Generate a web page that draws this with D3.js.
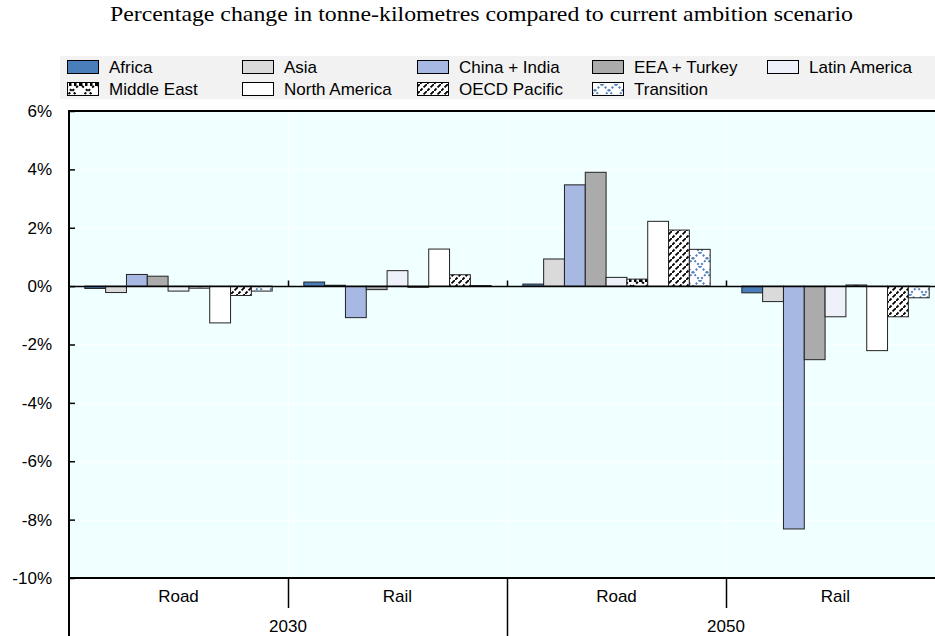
<!DOCTYPE html>
<html><head><meta charset="utf-8">
<script src="https://cdn.jsdelivr.net/npm/d3@7"></script>
<style>
html,body{margin:0;padding:0;background:#fff;}
svg{display:block;}
text{font-family:"Liberation Sans",Arial,sans-serif;fill:#000;}
</style></head>
<body>
<svg id="chart" width="935" height="636"></svg>
<script>
const title = "Percentage change in tonne-kilometres compared to current ambition scenario";
const series = ["Africa","Asia","China + India","EEA + Turkey","Latin America","Middle East","North America","OECD Pacific","Transition"];
const years = ["2030","2050"];
const modes = ["Road","Rail"];
const road2030 = [-0.08,-0.22,0.40,0.34,-0.17,-0.07,-1.26,-0.32,-0.17];
const rail2030 = [0.14,0.03,-1.08,-0.12,0.53,-0.04,1.27,0.39,0.02];
const road2050 = [0.07,0.93,3.47,3.90,0.30,0.24,2.22,1.92,1.26];
const rail2050 = [-0.23,-0.53,-8.32,-2.52,-1.05,0.04,-2.21,-1.05,-0.40];
const yTicks = [6,4,2,0,-2,-4,-6,-8,-10];

const groups = [
  {year:"2030",mode:"Road",vals:road2030},
  {year:"2030",mode:"Rail",vals:rail2030},
  {year:"2050",mode:"Road",vals:road2050},
  {year:"2050",mode:"Rail",vals:rail2050}
];

const fills = {
  "Africa":"#4A7EBB","Asia":"#DADADA","China + India":"#A7B9E3","EEA + Turkey":"#ABABAB",
  "Latin America":"#EEF1F9","Middle East":"url(#pME)","North America":"#FFFFFF",
  "OECD Pacific":"url(#pOP)","Transition":"url(#pTR)"
};

const svg = d3.select("#chart");
const L=69, R=945, T=111, B=578;

// patterns
const defs = svg.append("defs");
const pME = defs.append("pattern").attr("id","pME").attr("patternUnits","userSpaceOnUse").attr("width",16).attr("height",14);
pME.append("rect").attr("width",16).attr("height",14).attr("fill","#fff");
pME.append("path").attr("d","M2,2L14,12M14,2L2,12").attr("stroke","#000").attr("stroke-width",2).attr("stroke-dasharray","2.5,2.5");
pME.append("path").attr("d","M0,1H16M0,13H16").attr("stroke","#000").attr("stroke-width",2).attr("stroke-dasharray","2.5,2.5");
const pOP = defs.append("pattern").attr("id","pOP").attr("patternUnits","userSpaceOnUse").attr("width",7).attr("height",7);
pOP.append("rect").attr("width",7).attr("height",7).attr("fill","#fff");
pOP.append("path").attr("d","M-1.75,8.75L8.75,-1.75").attr("stroke","#000").attr("stroke-width",1.8).attr("stroke-dasharray","6,1.5");
const pTR = defs.append("pattern").attr("id","pTR").attr("patternUnits","userSpaceOnUse").attr("width",14).attr("height",14);
pTR.append("rect").attr("width",14).attr("height",14).attr("fill","#fff");
pTR.append("path").attr("d","M0,0L14,14M14,0L0,14").attr("stroke","#4F81BD").attr("stroke-width",2).attr("stroke-dasharray","2,2");

// title
svg.append("text").attr("x",481.5).attr("y",21).attr("text-anchor","middle")
  .attr("textLength",743).attr("lengthAdjust","spacingAndGlyphs")
  .style("font-family","'Liberation Serif','Times New Roman',serif").style("font-size","21px").text(title);

// legend
svg.append("rect").attr("x",60).attr("y",56).attr("width",875).attr("height",43).attr("fill","#F2F2F2");
const legX = [67,242,417,592,767];
series.forEach((s,i)=>{
  const col=i%5,row=Math.floor(i/5);
  const x=legX[col], y=60+row*22;
  svg.append("rect").attr("x",x+0.5).attr("y",y+0.5).attr("width",31).attr("height",13)
    .attr("fill",fills[s]).attr("stroke","#000").attr("stroke-width",1);
  svg.append("text").attr("x",x+42).attr("y",y+13).style("font-size","17px").text(s);
});

// scales
const y = d3.scaleLinear().domain([-10,6]).range([B,T]);
const xg = d3.scaleBand().domain(groups.map(g=>g.year+"|"+g.mode)).range([L,R]).padding(0);
const xs = d3.scaleBand().domain(series).range([0,xg.bandwidth()]).paddingOuter(0.76).paddingInner(0);
const bw = xg.bandwidth();

// plot background
svg.append("rect").attr("x",L).attr("y",T).attr("width",R-L).attr("height",B-T).attr("fill","#F0FFFF");
// grid
svg.append("g").selectAll("line").data(yTicks.filter(v=>v!==0&&v!==6&&v!==-10)).join("line")
  .attr("x1",L).attr("x2",R).attr("y1",d=>y(d)+0.5).attr("y2",d=>y(d)+0.5).attr("stroke","#fff").attr("stroke-width",1);
svg.append("g").selectAll("line").data(groups.slice(1)).join("line")
  .attr("x1",d=>Math.round(xg(d.year+"|"+d.mode))+0.5).attr("x2",d=>Math.round(xg(d.year+"|"+d.mode))+0.5)
  .attr("y1",T).attr("y2",B).attr("stroke","#fff").attr("stroke-width",1);

// bars
groups.forEach(g=>{
  const gx = xg(g.year+"|"+g.mode);
  svg.append("g").selectAll("rect").data(g.vals.map((v,i)=>({s:series[i],v}))).join("rect")
    .attr("x",d=>gx+xs(d.s)).attr("width",xs.bandwidth())
    .attr("y",d=>y(Math.max(0,d.v))).attr("height",d=>Math.max(0.5,Math.abs(y(d.v)-y(0))))
    .attr("fill",d=>fills[d.s]).attr("stroke","#222").attr("stroke-width",1);
});

// zero line and ticks
const y0 = Math.round(y(0))+0.5;
svg.append("line").attr("x1",L).attr("x2",R).attr("y1",y0).attr("y2",y0).attr("stroke","#000").attr("stroke-width",1.5);
svg.append("g").selectAll("line").data(groups.slice(1)).join("line")
  .attr("x1",d=>Math.round(xg(d.year+"|"+d.mode))+0.5).attr("x2",d=>Math.round(xg(d.year+"|"+d.mode))+0.5)
  .attr("y1",y0-6).attr("y2",y0).attr("stroke","#000").attr("stroke-width",1.5);

// frame top/bottom
svg.append("line").attr("x1",L).attr("x2",R).attr("y1",T).attr("y2",T).attr("stroke","#000").attr("stroke-width",2);
svg.append("line").attr("x1",L).attr("x2",R).attr("y1",B).attr("y2",B).attr("stroke","#000").attr("stroke-width",2);

// left axis
const ya = svg.append("g").attr("transform",`translate(${L},0)`)
  .call(d3.axisLeft(y).tickValues(yTicks).tickSize(-6).tickPadding(17).tickFormat(d=>d+"%"));
ya.select(".domain").remove();
ya.selectAll(".tick line").attr("stroke","#000").attr("stroke-width",1.5);
ya.selectAll(".tick text").style("font-size","17px").style("font-family","'Liberation Sans',Arial,sans-serif").attr("fill","#000");
svg.append("line").attr("x1",L).attr("x2",L).attr("y1",T-1).attr("y2",636).attr("stroke","#000").attr("stroke-width",2);

// category axis
groups.forEach((g,i)=>{
  const gx = xg(g.year+"|"+g.mode);
  svg.append("text").attr("x",gx+bw/2).attr("y",602).attr("text-anchor","middle").style("font-size","17px").text(g.mode);
  if(i>0){
    const xx = Math.round(gx)+0.5;
    svg.append("line").attr("x1",xx).attr("x2",xx).attr("y1",B).attr("y2",g.mode==="Road"?636:608).attr("stroke","#000").attr("stroke-width",1.5);
  }
});
years.forEach(yr=>{
  const gs = groups.filter(g=>g.year===yr).map(g=>xg(g.year+"|"+g.mode));
  const cx = (d3.min(gs)+d3.max(gs)+bw)/2;
  svg.append("text").attr("x",cx).attr("y",632).attr("text-anchor","middle").style("font-size","17px").text(yr);
});
</script>
</body></html>
